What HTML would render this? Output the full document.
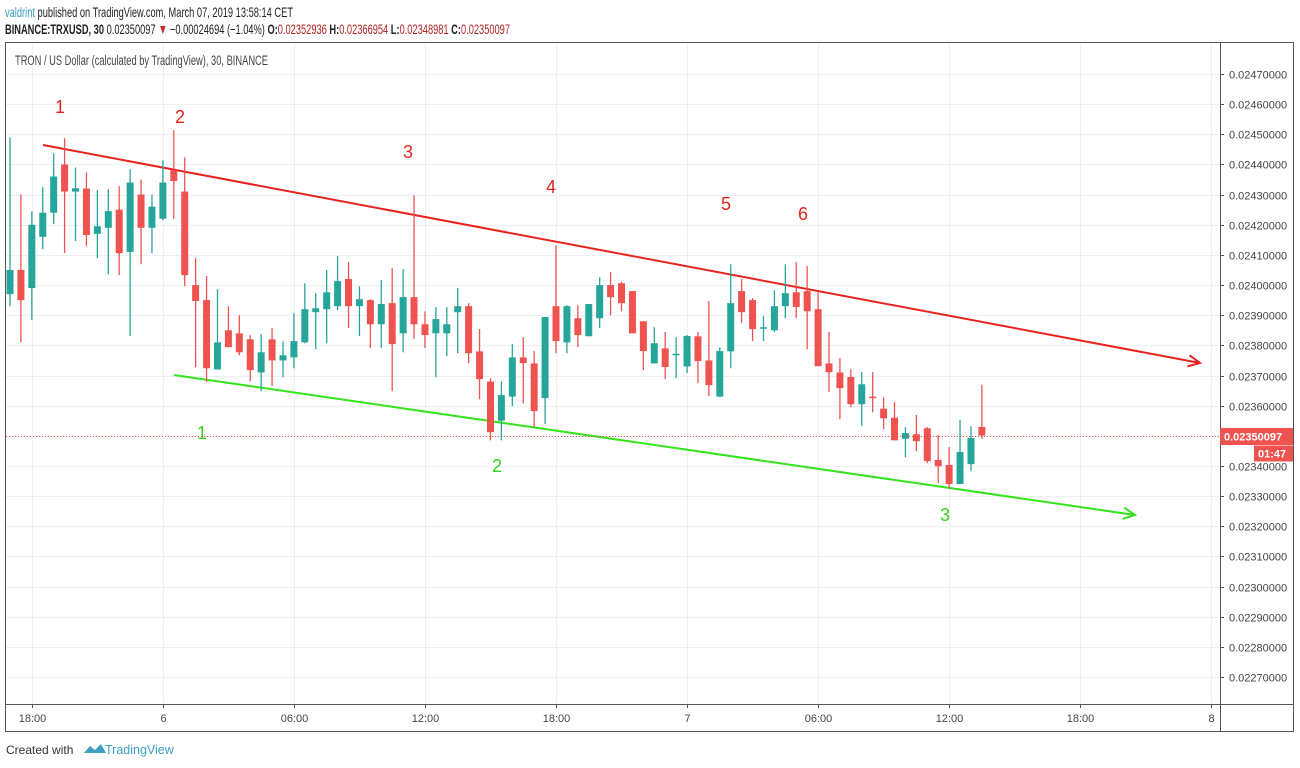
<!DOCTYPE html>
<html><head><meta charset="utf-8"><style>
html,body{margin:0;padding:0;background:#fff;}
svg{display:block;font-family:"Liberation Sans",sans-serif;}
</style></head><body>
<svg id="chart" width="1300" height="768" viewBox="0 0 1300 768">
<g>
<text x="5" y="17" font-size="14" textLength="288" lengthAdjust="spacingAndGlyphs" fill="#222"><tspan fill="#3ba0c0">valdrint</tspan> published on TradingView.com, March 07, 2019 13:58:14 CET</text>
<text x="5" y="34" font-size="14" textLength="505" lengthAdjust="spacingAndGlyphs" fill="#222"><tspan font-weight="bold">BINANCE:TRXUSD, 30</tspan> 0.02350097 <tspan fill="#c62828">▼</tspan> −0.00024694 (−1.04%) <tspan font-weight="bold">O:</tspan><tspan fill="#b22222">0.02352936</tspan> <tspan font-weight="bold">H:</tspan><tspan fill="#b22222">0.02366954</tspan> <tspan font-weight="bold">L:</tspan><tspan fill="#b22222">0.02348981</tspan> <tspan font-weight="bold">C:</tspan><tspan fill="#b22222">0.02350097</tspan></text>
</g>
<rect x="5.5" y="42.5" width="1288" height="689" fill="#fff" stroke="#555"/>
<g id="grid"></g>
<g id="trend"></g>
<g id="candles"></g>
<g id="axes"></g>
<text x="15" y="65" font-size="13.5" fill="#444" textLength="253" lengthAdjust="spacingAndGlyphs">TRON / US Dollar (calculated by TradingView), 30, BINANCE</text>
<g>
<text x="6" y="754" font-size="12" fill="#333">Created with</text>
<path d="M84 753 l6 -7 l5 4 l6 -6 l5 9 z" fill="#3ba0c0"/>
<text x="105" y="754" font-size="12.5" fill="#3ba0c0">TradingView</text>
</g>
</svg>
<script>
// prices in units of 1e-5 (e.g. 2350.097 = 0.02350097); candle i = 17:00 + i*30min
const opens  = [2397,2405,2399,2416,2424,2440,2431,2432,2417,2419,2425,2411,2430,2419,2422,2438,2431,2400,2395,2372,2385,2384,2382,2371,2382,2375,2376,2381,2391,2392,2393,2402,2393,2395,2387,2394,2384,2396,2387,2384,2384,2391,2393,2378,2368,2355,2363,2376,2374,2362.5,2393,2381,2389,2383,2389,2400,2400.6,2398,2388,2374,2379,2377,2373,2383,2375,2363,2378,2398,2395,2386,2385,2393,2397.6,2398,2392,2374,2371,2369.5,2360.5,2363,2359,2356,2349,2350.5,2352.5,2342,2340.3,2334,2340.6,2352.936];
const highs  = [2449,2430,2424.5,2432.5,2443.7,2448.7,2439,2437.4,2431.5,2431.8,2432.8,2438.4,2435,2430,2441.4,2451.4,2442.4,2409,2403,2398.6,2393,2390,2383.4,2383.7,2385.7,2381.4,2390.7,2400.6,2397.3,2405,2409.6,2407.6,2399.6,2395.3,2401.6,2405.6,2405.3,2429.8,2391.3,2392.7,2392.7,2399,2394,2385.4,2369.1,2368.1,2380.4,2382.7,2378.1,2389.4,2413.2,2393.3,2393.3,2393.7,2402.6,2404.3,2401,2398,2388,2386,2384.4,2382.7,2383.4,2384.4,2394.7,2379.4,2406.9,2402,2395.7,2389.7,2398.3,2406.9,2407.6,2406.3,2397.6,2384.4,2375.8,2372.1,2371.1,2371.1,2362.8,2361.2,2352.9,2356.9,2352.9,2350.2,2346.3,2355.2,2353.2,2366.954];
const lows   = [2393,2381,2388.4,2411.9,2420.2,2410.6,2414.6,2412.9,2408.9,2403.6,2403.3,2383.1,2406.9,2410.6,2421.5,2421.9,2399.6,2372.8,2367.8,2372.1,2379.4,2376.7,2368.1,2364.8,2366.5,2369.4,2372.4,2380.7,2378.7,2380.7,2391.7,2385.7,2383.1,2379.1,2379.1,2364.8,2377.7,2382.1,2379.1,2369.4,2376.4,2377.4,2374.1,2362.1,2348.5,2348.5,2359.8,2360.8,2352.9,2353.9,2377.4,2377.4,2379.4,2383.4,2385.7,2390,2391.3,2384,2371.8,2374.1,2368.8,2369.1,2370.8,2367.5,2363.2,2362.8,2372.4,2387.4,2381.4,2381.4,2384.4,2389,2389,2378.7,2373.1,2364.5,2355.5,2359.5,2353.2,2357.8,2352.2,2348.5,2342.9,2344.9,2340.9,2334.3,2332.6,2334,2338.3,2348.981];
const closes = [2405,2395,2420,2424,2436,2431,2432.1,2416.6,2419.5,2424.5,2410.6,2434,2419,2426,2434,2434.5,2403.3,2394.7,2372.4,2381,2379.4,2377.7,2371.8,2377.7,2375,2376.7,2381.4,2392,2392.3,2397.6,2401.3,2393,2395.3,2387,2393.7,2380.4,2396,2387,2383.4,2388.7,2387,2393,2377.4,2368.8,2351.2,2363.5,2376,2374.1,2358.2,2389.4,2381.4,2393,2383.4,2393.7,2400,2396,2394,2384,2378.1,2380.7,2372.8,2377.2,2383.1,2374.8,2366.8,2378.1,2394,2391,2385.4,2386,2393,2397.3,2392.7,2391.3,2373.1,2371.1,2365.8,2360.5,2367.1,2362.8,2355.8,2348.5,2350.9,2348.2,2341.6,2339.9,2334,2344.6,2349.3,2350.097];
const priceTicks = [2470,2460,2450,2440,2430,2420,2410,2400,2390,2380,2370,2360,2350,2340,2330,2320,2310,2300,2290,2280,2270];
const timeTicks = [2,14,26,38,50,62,74,86,98,110]; // candle index positions
const timeLabels = ["18:00","6","06:00","12:00","18:00","7","06:00","12:00","18:00","8"];
const lastPrice = 2350.097;

const NS="http://www.w3.org/2000/svg";
function yOf(p){return 74 + (2470 - p)*3.015;}
function xOf(i){return 10 + i*10.92;}
function mk(tag,attrs,parent){const e=document.createElementNS(NS,tag);for(const k in attrs)e.setAttribute(k,attrs[k]);parent.appendChild(e);return e;}
const grid=document.getElementById('grid'), axes=document.getElementById('axes'), cg=document.getElementById('candles'), tg=document.getElementById('trend');

priceTicks.forEach((p)=>{
  const y=Math.round(yOf(p))+0.5;
  const l=mk('line',{x1:6,x2:1220,y1:y,y2:y,stroke:'#edf0f3','stroke-width':1},grid);
  
  
  const tk=mk('line',{x1:1220,x2:1224,y1:y,y2:y,stroke:'#555'},axes);
  
  
  const t=mk('text',{x:1229,y:y+4,'font-size':11,fill:'#444'},axes);
  t.textContent=(p/100000).toFixed(8);
  
  
});
timeTicks.forEach((ti,k)=>{
  const x=Math.round(xOf(ti))+0.5;
  const l=mk('line',{x1:x,x2:x,y1:43,y2:703,stroke:'#edf0f3','stroke-width':1},grid);
  
  
  const tk=mk('line',{x1:x,x2:x,y1:704,y2:708,stroke:'#555'},axes);
  
  
  const t=mk('text',{x:x,y:722,'font-size':11,fill:'#444','text-anchor':'middle'},axes);
  t.textContent=timeLabels[k];
  
  
});
const ax1=mk('line',{x1:1220.5,x2:1220.5,y1:43,y2:731,stroke:'#555'},axes);


const ax2=mk('line',{x1:6,x2:1293,y1:704.5,y2:704.5,stroke:'#555'},axes);



const ly=Math.round(yOf(lastPrice))+0.5;
const pl=mk('line',{x1:6,x2:1220,y1:ly,y2:ly,stroke:'#e04a4a','stroke-width':1,'stroke-dasharray':'1,2'},axes);


const pb=mk('rect',{x:1220,y:ly-8.5,width:73,height:17,fill:'#ef5350'},axes);


const pt=mk('text',{x:1224,y:ly+4,'font-size':11,fill:'#fff','font-weight':'bold'},axes);
pt.textContent=(lastPrice/100000).toFixed(8);


const cb=mk('rect',{x:1254,y:ly+9,width:39,height:16,fill:'#ef5350'},axes);


const ct=mk('text',{x:1258,y:ly+21,'font-size':11,fill:'#fff','font-weight':'bold'},axes);
ct.textContent='01:47';



opens.forEach((o,i)=>{
  const c=closes[i], up=c>=o, col=up?'#26a69a':'#ef5350';
  const x=xOf(i);
  const g=mk('g',{},cg);
  
  
  mk('line',{x1:x,x2:x,y1:yOf(highs[i]),y2:yOf(lows[i]),stroke:col,'stroke-width':1.3},g);
  const top=yOf(Math.max(o,c)), bot=yOf(Math.min(o,c));
  mk('rect',{x:x-3.5,y:top,width:7,height:Math.max(1.5,bot-top),fill:col},g);
});

function arrowLine(x1,y1,x2,y2,col,name){
  const l=mk('line',{x1:x1,y1:y1,x2:x2,y2:y2,stroke:col,'stroke-width':2},tg);
  
  
  const a=Math.atan2(y2-y1,x2-x1), L=13;
  const p=`M${x2-L*Math.cos(a-0.45)} ${y2-L*Math.sin(a-0.45)} L${x2} ${y2} L${x2-L*Math.cos(a+0.45)} ${y2-L*Math.sin(a+0.45)}`;
  const h=mk('path',{d:p,stroke:col,'stroke-width':2,fill:'none'},tg);
  
  
}
arrowLine(43,145,1200,363,'#e8231e','resistance-line');
arrowLine(174,375,1135,515,'#33e41b','support-line');
const redNums=[[60,113,'1'],[180,123,'2'],[408,158,'3'],[551,193,'4'],[726,210,'5'],[803,220,'6']];
redNums.forEach(r=>{const t=mk('text',{x:r[0],y:r[1],'font-size':18,fill:'#e8231e','text-anchor':'middle'},tg);t.textContent=r[2];
  
  });
const greenNums=[[202,439,'1'],[497,472,'2'],[945,521,'3']];
greenNums.forEach(r=>{const t=mk('text',{x:r[0],y:r[1],'font-size':18,fill:'#33d41b','text-anchor':'middle'},tg);t.textContent=r[2];
  
  });
</script>
</body></html>
